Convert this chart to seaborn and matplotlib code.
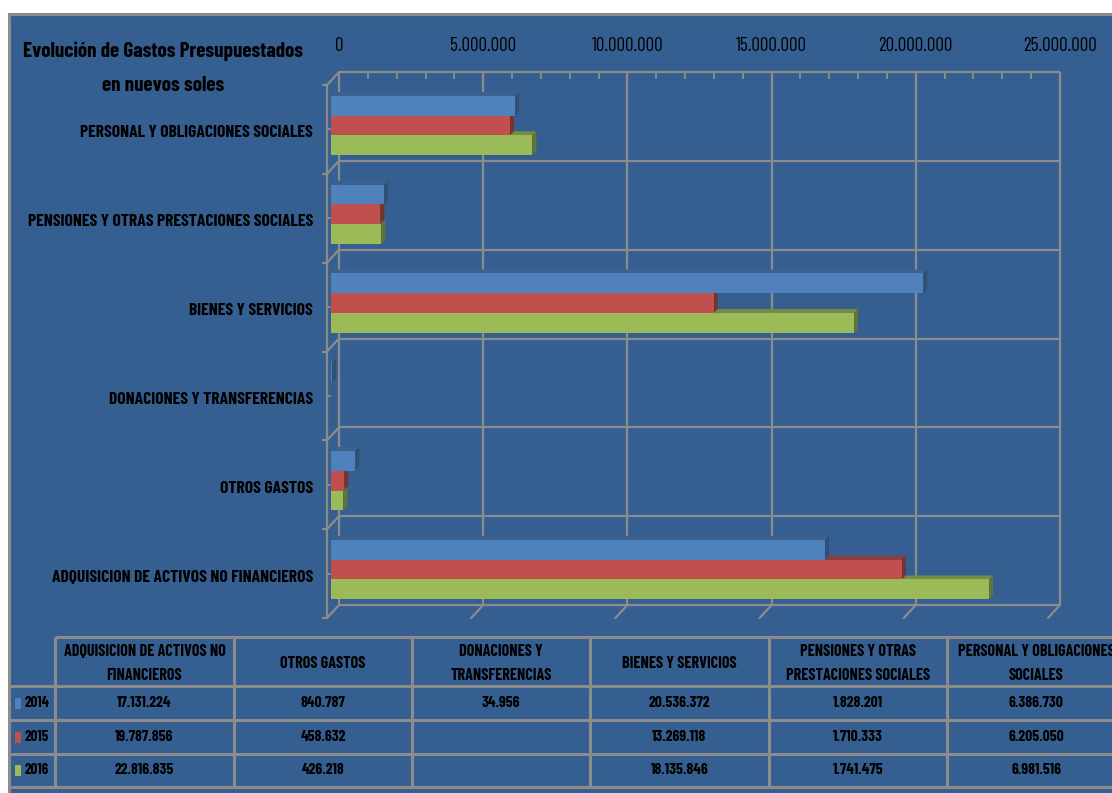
import numpy as np
import pandas as pd
import matplotlib
matplotlib.use("Agg")
import matplotlib.pyplot as plt
import seaborn as sns
from matplotlib.patches import Polygon, Rectangle
from matplotlib.transforms import ScaledTranslation

# ---- data -------------------------------------------------------------
categories = [
    "PERSONAL Y OBLIGACIONES SOCIALES",
    "PENSIONES Y OTRAS PRESTACIONES SOCIALES",
    "BIENES Y SERVICIOS",
    "DONACIONES Y TRANSFERENCIAS",
    "OTROS GASTOS",
    "ADQUISICION DE ACTIVOS NO FINANCIEROS",
]
years = ["2014", "2015", "2016"]
gastos_2014 = [6386730, 1828201, 20536372, 34956, 840787, 17131224]
gastos_2015 = [6205050, 1710333, 13269118, np.nan, 458632, 19787856]
gastos_2016 = [6981516, 1741475, 18135846, np.nan, 426218, 22816835]

# table columns run in the reverse order of the bar categories
table_headers = [
    "ADQUISICION DE ACTIVOS NO\nFINANCIEROS",
    "OTROS GASTOS",
    "DONACIONES Y\nTRANSFERENCIAS",
    "BIENES Y SERVICIOS",
    "PENSIONES Y OTRAS\nPRESTACIONES SOCIALES",
    "PERSONAL Y OBLIGACIONES\nSOCIALES",
]
x_ticks = [0, 5000000, 10000000, 15000000, 20000000, 25000000]

title_lines = ["Evolución de Gastos Presupuestados", "en nuevos soles"]

# ---- style ------------------------------------------------------------
W, H, DPI = 1112, 793, 100
PT = 72 / DPI  # points per pixel
BG = "#365F91"
GRID = "#8C8C8C"
colors = {"2014": "#4F81BD", "2015": "#C0504D", "2016": "#9BBB59"}
FONT = ["Barlow Condensed", "Archivo Narrow", "DejaVu Sans"]

sns.set_theme(style="white")
plt.rcParams["font.family"] = FONT

def fmt(v):
    return f"{v:,.0f}".replace(",", ".")

def shade(c, k=0.72):
    r, g, b = matplotlib.colors.to_rgb(c)
    return (r * k, g * k, b * k)

fig = plt.figure(figsize=(W / DPI, H / DPI), dpi=DPI, facecolor="white")
renderer = fig.canvas.get_renderer()

def fitted(text_obj, target_px):
    """Font size that makes text_obj span target_px horizontally."""
    w = text_obj.get_window_extent(renderer).width
    return text_obj.get_fontsize() * target_px / w

# pixel-space layer for the panel background and the data table
ax_bg = fig.add_axes([0, 0, 1, 1])
ax_bg.set_xlim(0, W)
ax_bg.set_ylim(H, 0)
ax_bg.axis("off")
ax_bg.set_zorder(-1)
ax_bg.add_patch(Rectangle((9, 14), W, H, facecolor=BG, edgecolor=GRID, lw=2.2))

# ---- chart ------------------------------------------------------------
L, R, T, B = 339, 1060, 72, 605
ax = fig.add_axes([L / W, (H - B) / H, (R - L) / W, (B - T) / H])
ax.set_facecolor("none")

df = pd.DataFrame({
    "categoria": categories * 3,
    "anio": sum([[y] * len(categories) for y in years], []),
    "valor": gastos_2014 + gastos_2015 + gastos_2016,
}).dropna()

sns.barplot(data=df, x="valor", y="categoria", hue="anio", order=categories,
            hue_order=years, palette=colors, orient="h", width=0.667,
            saturation=1, legend=False, ax=ax, zorder=3, linewidth=0)

ax.set_xlim(0, 25000000)
ax.set_ylim(5.5, -0.5)
for s in ax.spines.values():
    s.set_visible(False)
ax.set_xlabel("")
ax.set_ylabel("")

# back wall grid
ax.vlines(x_ticks, -0.5, 5.5, color=GRID, lw=1.6, zorder=0.5, clip_on=False)
ax.hlines(np.arange(-0.5, 6.0, 1.0), 0, 25000000, color=GRID, lw=1.6,
          zorder=0.5, clip_on=False)
px_x = ax.bbox.width / 25000000
px_y = ax.bbox.height / 6.0
minor = [v for v in np.arange(1000000, 25000000, 1000000) if v % 5000000]
ax.vlines(minor, -0.5, -0.5 + 7 / px_y, color=GRID, lw=1.4, zorder=0.5)

# floor edge in front of the wall
to_data = ax.transData.inverted()
def shifted(x, y, dx, dy):
    p = ax.transData.transform((x, y))
    return to_data.transform((p[0] + dx, p[1] + dy))

FDX, FDY = -12, -13
for yb in np.arange(-0.5, 6.0, 1.0):
    q = shifted(0, yb, FDX, FDY)
    ax.plot([0, q[0]], [yb, q[1]], color=GRID, lw=1.6, clip_on=False, zorder=0.5)
    q2 = shifted(0, yb, FDX - 4, FDY)
    ax.plot([q[0], q2[0]], [q[1], q2[1]], color=GRID, lw=1.6, clip_on=False, zorder=0.5)
for yc in range(len(categories)):
    q = shifted(0, yc, FDX, FDY)
    q2 = shifted(0, yc, FDX + 3, FDY)
    ax.plot([q[0], q2[0]], [q[1], q2[1]], color=GRID, lw=1.4, clip_on=False, zorder=0.5)
top = shifted(0, -0.5, FDX, FDY)
bot = shifted(0, 5.5, FDX, FDY)
ax.plot([top[0], bot[0]], [top[1], bot[1]], color=GRID, lw=1.6, clip_on=False, zorder=0.5)
for xv in x_ticks[1:]:
    q = shifted(xv, 5.5, FDX, FDY)
    ax.plot([xv, q[0]], [5.5, q[1]], color=GRID, lw=1.6, clip_on=False, zorder=0.5)

# bars sit in front of the wall, with a shallow depth face on the side and top
bar_off = ScaledTranslation(-8 / DPI, -9 / DPI, fig.dpi_scale_trans)
dxd = 4 / px_x
dyd = 4 / px_y
for p in list(ax.patches):
    w = p.get_width()
    if not np.isfinite(w) or w <= 0:
        continue
    fc = p.get_facecolor()
    x0, y0, h = p.get_x(), p.get_y(), p.get_height()
    y1 = y0 + h
    xe = x0 + w
    p.set_transform(ax.transData + bar_off)
    p.set_clip_on(False)
    p.set_zorder(3)
    side = Polygon([(xe, y0), (xe + dxd, y0 - dyd), (xe + dxd, y1 - dyd), (xe, y1)],
                   closed=True, facecolor=shade(fc, 0.62), edgecolor="none",
                   transform=ax.transData + bar_off, clip_on=False, zorder=2.5)
    topf = Polygon([(x0, y0), (xe, y0), (xe + dxd, y0 - dyd), (x0 + dxd, y0 - dyd)],
                   closed=True, facecolor=shade(fc, 0.75), edgecolor="none",
                   transform=ax.transData + bar_off, clip_on=False, zorder=2.4)
    ax.add_patch(side)
    ax.add_patch(topf)

# axis labels
ax.set_xticks(x_ticks)
ax.set_xticklabels([fmt(v) for v in x_ticks])
ax.xaxis.tick_top()
ax.tick_params(axis="x", top=False, bottom=False, labeltop=True, labelbottom=False,
               length=0, pad=17 * PT, labelsize=13, labelcolor="black")
ax.set_yticks(range(len(categories)))
ax.set_yticklabels(categories)
ax.tick_params(axis="y", left=False, length=0, pad=26 * PT, labelsize=12,
               labelcolor="black")
for lbl in ax.get_yticklabels():
    lbl.set_fontweight("bold")

xs = fitted(ax.get_xticklabels()[1], 67)
ys = fitted(ax.get_yticklabels()[0], 235)
ax.tick_params(axis="x", labelsize=xs)
ax.tick_params(axis="y", labelsize=ys)
lab_off = ScaledTranslation(0, -15 / DPI, fig.dpi_scale_trans)
for lbl in ax.get_yticklabels():
    lbl.set_fontweight("bold")
    lbl.set_transform(lbl.get_transform() + lab_off)

# title
t1 = ax_bg.text(163, 57, title_lines[0], ha="center", va="baseline", fontsize=14,
                fontweight="bold", color="black")
t1.set_fontsize(fitted(t1, 281))
ax_bg.text(163, 91, title_lines[1], ha="center", va="baseline",
           fontsize=t1.get_fontsize(), fontweight="bold", color="black")

# ---- data table -------------------------------------------------------
col_edges = [55, 234, 412, 590, 769, 947, 1125]
row_edges = [637, 686, 720, 754, 787]
tkw = dict(color=GRID, lw=2.2, solid_capstyle="butt")
ax_bg.plot([col_edges[0], W], [row_edges[0]] * 2, **tkw)
for yv in row_edges[1:]:
    ax_bg.plot([9, W], [yv, yv], **tkw)
for xv in col_edges[:-1]:
    ax_bg.plot([xv, xv], [row_edges[0], row_edges[-1]], **tkw)

probe = ax_bg.text(0, 0, "OTROS GASTOS", fontsize=10, fontweight="bold")
head_fs = fitted(probe, 86)
probe.remove()
probe = ax_bg.text(0, 0, fmt(gastos_2016[5]), fontsize=10, fontweight="bold")
val_fs = fitted(probe, 60)
probe.remove()
probe = ax_bg.text(0, 0, years[0], fontsize=10, fontweight="bold")
year_fs = fitted(probe, 25)
probe.remove()

series = [gastos_2014, gastos_2015, gastos_2016]
for j, head in enumerate(table_headers):
    cx = (col_edges[j] + col_edges[j + 1]) / 2
    ax_bg.text(cx, (row_edges[0] + row_edges[1]) / 2 + 2, head, ha="center", va="center",
               fontsize=head_fs, fontweight="bold", color="black", linespacing=1.75)
    k = len(categories) - 1 - j
    for i, vals in enumerate(series):
        v = vals[k]
        if np.isfinite(v):
            ax_bg.text(cx, (row_edges[i + 1] + row_edges[i + 2]) / 2, fmt(v),
                       ha="center", va="center", fontsize=val_fs, fontweight="bold",
                       color="black")

for i, yr in enumerate(years):
    cy = (row_edges[i + 1] + row_edges[i + 2]) / 2
    ax_bg.add_patch(Rectangle((15, cy - 5.5), 6, 11, facecolor=colors[yr], edgecolor="none"))
    ax_bg.text(25, cy, yr, ha="left", va="center", fontsize=year_fs,
               fontweight="bold", color="black")

fig.savefig("out.png", dpi=DPI)
